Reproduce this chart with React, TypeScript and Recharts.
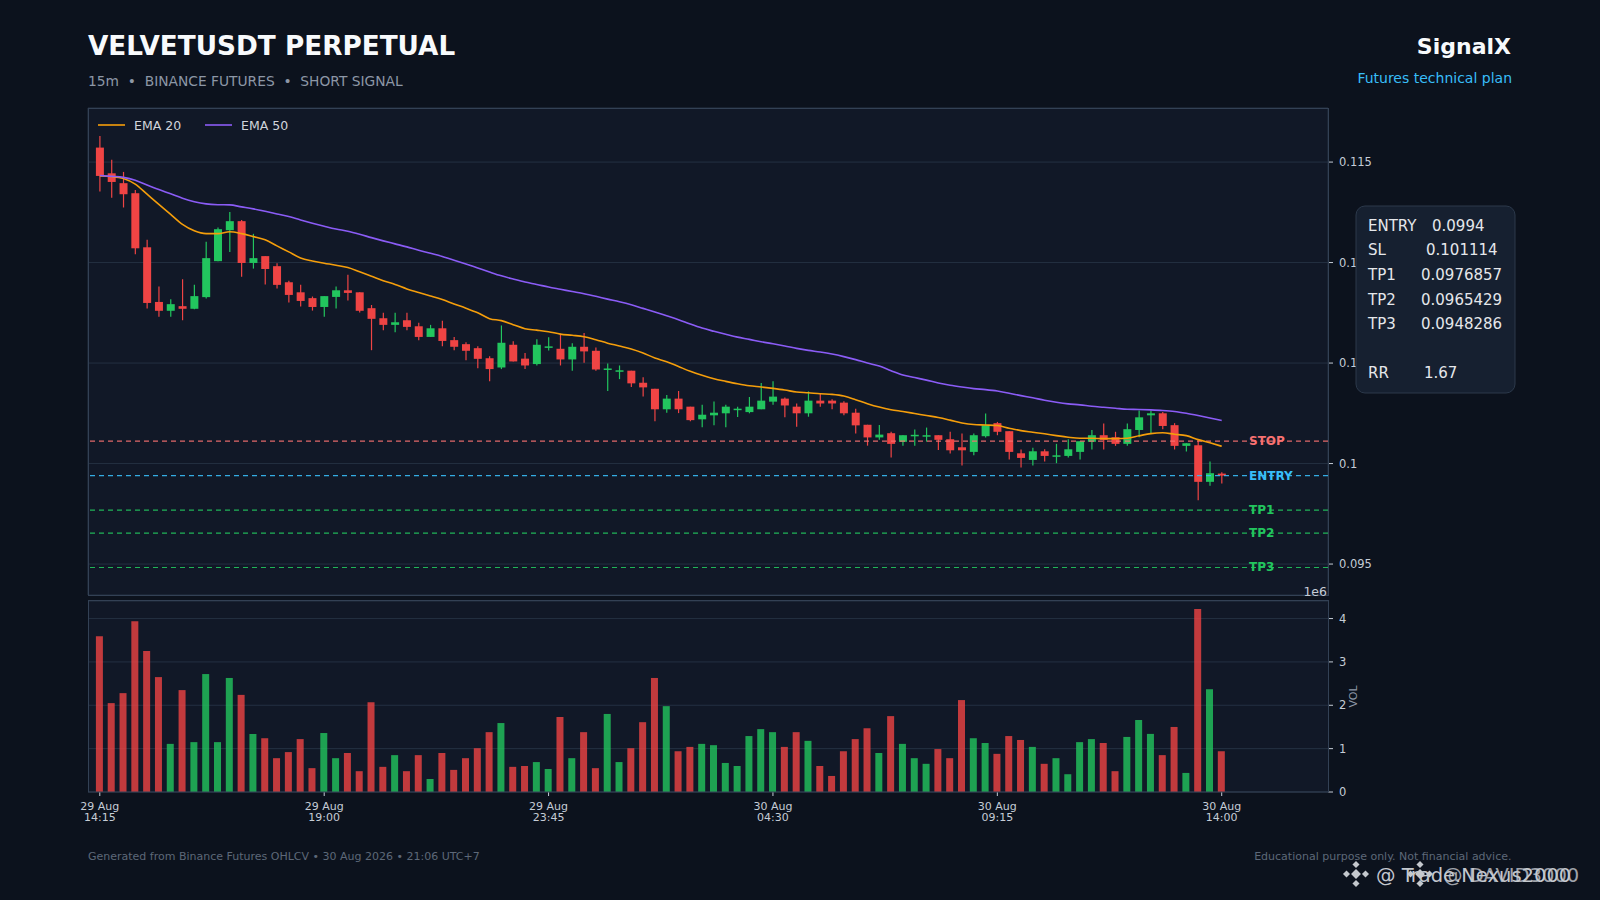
import React from "react";
import {
  ComposedChart,
  BarChart,
  Bar,
  Line,
  XAxis,
  YAxis,
  CartesianGrid,
  ReferenceLine,
  Cell,
  Label,
} from "recharts";

// 15m candles, 29 Aug 14:15 -> 30 Aug 14:00 (96 bars)
const opens = [
  0.11572, 0.11444, 0.11395, 0.11345, 0.11076, 0.10804, 0.1076, 0.10783, 0.1077, 0.10828,
  0.11007, 0.11161, 0.11206, 0.10998, 0.11032, 0.10982, 0.10902, 0.10852, 0.10823, 0.10779,
  0.10829, 0.10862, 0.10852, 0.10773, 0.10723, 0.1069, 0.10713, 0.10683, 0.1063, 0.10673,
  0.10614, 0.10594, 0.10574, 0.10524, 0.10478, 0.10591, 0.10522, 0.10495, 0.10576, 0.10571,
  0.10518, 0.10581, 0.10561, 0.10468, 0.10457, 0.10462, 0.10402, 0.10372, 0.1027, 0.10323,
  0.10283, 0.1022, 0.1024, 0.1025, 0.10268, 0.10256, 0.1027, 0.10308, 0.10323, 0.10283,
  0.1025, 0.10313, 0.10313, 0.10303, 0.10253, 0.10193, 0.1013, 0.10151, 0.10108, 0.10138,
  0.10138, 0.10141, 0.10121, 0.10081, 0.10058, 0.10136, 0.10201, 0.10161, 0.10051, 0.10018,
  0.10061, 0.10036, 0.10038, 0.10058, 0.10108, 0.10141, 0.10131, 0.10098, 0.10167, 0.1024,
  0.1025, 0.10191, 0.10088, 0.10091, 0.09909, 0.0995,
];
const highs = [
  0.1163, 0.11511, 0.11451, 0.11361, 0.11114, 0.10881, 0.10818, 0.10917, 0.10889, 0.11103,
  0.11174, 0.11252, 0.11212, 0.11143, 0.11032, 0.10997, 0.10909, 0.10889, 0.10831, 0.10833,
  0.10881, 0.10939, 0.10852, 0.10789, 0.1075, 0.1075, 0.1075, 0.107, 0.1069, 0.1071,
  0.1063, 0.10604, 0.10584, 0.10534, 0.10687, 0.10608, 0.1055, 0.10619, 0.10629, 0.10646,
  0.10599, 0.10649, 0.10578, 0.10498, 0.10488, 0.10462, 0.1043, 0.10372, 0.10341, 0.10361,
  0.10283, 0.10293, 0.10309, 0.10293, 0.10283, 0.10331, 0.10401, 0.10409, 0.10329, 0.10299,
  0.10359, 0.10346, 0.1032, 0.1031, 0.10273, 0.10193, 0.10192, 0.10158, 0.10141, 0.10169,
  0.10179, 0.10141, 0.10158, 0.10149, 0.10149, 0.10249, 0.10207, 0.10161, 0.1007, 0.10078,
  0.10071, 0.10098, 0.10121, 0.10111, 0.10167, 0.10199, 0.10158, 0.10199, 0.10264, 0.10264,
  0.10257, 0.10201, 0.10101, 0.10116, 0.1001, 0.09957,
];
const lows = [
  0.11353, 0.11323, 0.11274, 0.11041, 0.10771, 0.10731, 0.10731, 0.10713, 0.10768, 0.10821,
  0.11007, 0.11053, 0.1093, 0.1097, 0.10891, 0.10871, 0.10801, 0.10781, 0.10761, 0.10731,
  0.10771, 0.10811, 0.10751, 0.10564, 0.10663, 0.10653, 0.10663, 0.10614, 0.1063, 0.10584,
  0.10564, 0.10514, 0.10474, 0.10409, 0.1047, 0.10508, 0.1047, 0.10488, 0.10563, 0.10488,
  0.10462, 0.10502, 0.10462, 0.10361, 0.1042, 0.10381, 0.10333, 0.1021, 0.10253, 0.10251,
  0.1021, 0.1018, 0.1019, 0.1018, 0.10231, 0.1025, 0.1027, 0.10293, 0.1023, 0.10183,
  0.10233, 0.10283, 0.1027, 0.1024, 0.1015, 0.10089, 0.10119, 0.1003, 0.10088, 0.10088,
  0.10109, 0.10068, 0.1005, 0.0999, 0.10041, 0.10129, 0.10141, 0.1002, 0.0998, 0.0999,
  0.1001, 0.10002, 0.1003, 0.1002, 0.1007, 0.1007, 0.10088, 0.10088, 0.10131, 0.10149,
  0.10171, 0.1007, 0.1006, 0.09818, 0.09889, 0.09901,
];
const closes = [
  0.11431, 0.11401, 0.1134, 0.11071, 0.10799, 0.1076, 0.10793, 0.1077, 0.10833, 0.11022,
  0.11166, 0.11206, 0.10998, 0.11022, 0.10968, 0.10889, 0.10839, 0.10809, 0.10779, 0.10833,
  0.10862, 0.10849, 0.1076, 0.1072, 0.1069, 0.10703, 0.1068, 0.1063, 0.10673, 0.1061,
  0.10581, 0.10561, 0.10521, 0.1047, 0.10601, 0.10508, 0.10488, 0.10591, 0.10583, 0.10518,
  0.10581, 0.10558, 0.10468, 0.10473, 0.10464, 0.10399, 0.10379, 0.1027, 0.10323, 0.1027,
  0.10216, 0.10243, 0.10253, 0.10283, 0.10273, 0.10283, 0.10313, 0.10333, 0.10289, 0.1025,
  0.10313, 0.10299, 0.10299, 0.1025, 0.1019, 0.1013, 0.10144, 0.10098, 0.10141, 0.10143,
  0.10141, 0.10118, 0.10066, 0.10066, 0.10141, 0.10191, 0.10158, 0.10058, 0.10028, 0.10061,
  0.10038, 0.10041, 0.10071, 0.10111, 0.10141, 0.10118, 0.10098, 0.10171, 0.1023, 0.1025,
  0.10187, 0.10088, 0.10101, 0.09909, 0.09952, 0.0994,
];
const volumes = [
  3590000, 2050000, 2280000, 3940000, 3250000, 2650000, 1110000, 2350000, 1150000, 2720000,
  1150000, 2630000, 2240000, 1340000, 1240000, 780000, 920000, 1220000, 550000, 1360000,
  780000, 900000, 480000, 2070000, 580000, 850000, 480000, 850000, 300000, 900000,
  510000, 780000, 1010000, 1380000, 1590000, 580000, 600000, 690000, 530000, 1730000,
  780000, 1380000, 550000, 1800000, 690000, 1010000, 1610000, 2630000, 1980000, 940000,
  1040000, 1110000, 1080000, 670000, 600000, 1290000, 1450000, 1380000, 1040000, 1380000,
  1180000, 600000, 370000, 940000, 1220000, 1470000, 900000, 1750000, 1110000, 780000,
  650000, 990000, 780000, 2120000, 1240000, 1130000, 880000, 1290000, 1200000, 1040000,
  650000, 780000, 410000, 1150000, 1220000, 1130000, 480000, 1270000, 1660000, 1340000,
  850000, 1500000, 440000, 4220000, 2370000, 940000,
];
const ema20 = [
  0.11431, 0.11428, 0.11418, 0.1139, 0.1134, 0.1129, 0.1124, 0.1119, 0.11158, 0.11144,
  0.11144, 0.11153, 0.11144, 0.11129, 0.11113, 0.11083, 0.11053, 0.11023, 0.11008, 0.10997,
  0.10987, 0.10975, 0.10954, 0.10932, 0.1091, 0.10891, 0.10869, 0.10851, 0.10834, 0.10816,
  0.10794, 0.10773, 0.1075, 0.10721, 0.10711, 0.10691, 0.10671, 0.10664, 0.10656, 0.10644,
  0.10638, 0.10631, 0.10616, 0.10599, 0.10585, 0.1057, 0.1055, 0.10525, 0.10507, 0.10483,
  0.10459, 0.10439, 0.10422, 0.10409, 0.10397, 0.10387, 0.10381, 0.10374, 0.10366, 0.10356,
  0.10352, 0.10347, 0.10344, 0.10336, 0.10318, 0.10298, 0.10281, 0.10268, 0.10259, 0.10249,
  0.10239, 0.10229, 0.10216, 0.10202, 0.10194, 0.10192, 0.10189, 0.10176, 0.10164, 0.10156,
  0.10148, 0.10139, 0.10131, 0.10126, 0.10126, 0.10124, 0.10124, 0.10126, 0.10138, 0.10149,
  0.10153, 0.10146, 0.10139, 0.10119, 0.10103, 0.10086,
];
const ema50 = [
  0.11433, 0.11429, 0.11424, 0.1141, 0.11386, 0.11363, 0.11342, 0.1132, 0.11303, 0.11292,
  0.11288, 0.11287, 0.11277, 0.11267, 0.11255, 0.11242, 0.11229, 0.11212, 0.11196, 0.11181,
  0.11167, 0.11156, 0.11141, 0.11124, 0.11108, 0.11093, 0.11078, 0.11061, 0.11046, 0.1103,
  0.11012, 0.10993, 0.10973, 0.10953, 0.10934, 0.10918, 0.10903, 0.10891, 0.10878, 0.10867,
  0.10856, 0.10845, 0.10832, 0.10818, 0.10805, 0.1079, 0.10772, 0.10754, 0.10735, 0.10716,
  0.10694, 0.10674, 0.10658, 0.10643, 0.10629, 0.10618, 0.10606, 0.10596, 0.10585, 0.10573,
  0.10563, 0.10555, 0.10545, 0.10532, 0.10517, 0.105, 0.10485, 0.10462, 0.10441, 0.10428,
  0.10415, 0.10401, 0.1039, 0.10381, 0.10373, 0.10368, 0.10361, 0.1035, 0.10338, 0.10327,
  0.10315, 0.10305, 0.10297, 0.10292, 0.10285, 0.1028, 0.10275, 0.1027, 0.10269, 0.10267,
  0.10264, 0.10259, 0.1025, 0.10239, 0.10227, 0.10214,
];

// x tick positions (candle index) and their labels
const timeTicks = [0, 19, 38, 57, 76, 95];
const timeLabels = [
  ["29 Aug", "14:15"],
  ["29 Aug", "19:00"],
  ["29 Aug", "23:45"],
  ["30 Aug", "04:30"],
  ["30 Aug", "09:15"],
  ["30 Aug", "14:00"],
];
const priceTicks = [0.095, 0.1, 0.105, 0.11, 0.115];
const volumeTicks = [0, 1000000, 2000000, 3000000, 4000000];

// trade plan levels
const levelNames = ["STOP", "ENTRY", "TP1", "TP2", "TP3"];
const levelValues = [0.101114, 0.0994, 0.0976857, 0.0965429, 0.0948286];
const planLabels = ["ENTRY", "SL", "TP1", "TP2", "TP3", "RR"];
const planValues = ["0.0994", "0.101114", "0.0976857", "0.0965429", "0.0948286", "1.67"];

const FONT = "'DejaVu Sans', Verdana, sans-serif";
const BG = "#0c121d";
const PANEL = "#111827";
const GRID = "#243042";
const FRAME = "#334155";
const AXIS_TEXT = "#c5ccd6";
const UP = "#22c55e";
const DOWN = "#ef4444";
const EMA20_COLOR = "#f59e0b";
const EMA50_COLOR = "#8b5cf6";
const LEVEL_COLORS = ["#f87171", "#38bdf8", "#22c55e", "#22c55e", "#22c55e"];

const rows = opens.map((open, i) => ({
  i,
  open,
  high: highs[i],
  low: lows[i],
  close: closes[i],
  range: [lows[i], highs[i]],
  ema20: ema20[i],
  ema50: ema50[i],
  vol: volumes[i],
}));

const X_DOMAIN: [number, number] = [-1, 104];
const MARGIN_L = 88;
const MARGIN_R = 212;
const AXIS_W = 60;

const Candle = (props: any) => {
  const { x, y, width, height, payload } = props;
  if (!payload || height == null) return null;
  const { open, close, high, low } = payload;
  const color = close >= open ? UP : DOWN;
  const top = Math.min(y, y + height);
  const h = Math.abs(height);
  const span = high - low || 1e-9;
  const toY = (v: number) => top + ((high - v) / span) * h;
  const cx = x + width / 2;
  const bTop = toY(Math.max(open, close));
  const bBot = toY(Math.min(open, close));
  return (
    <g>
      <line x1={cx} x2={cx} y1={top} y2={top + h} stroke={color} strokeWidth={1.2} />
      <rect x={x} y={bTop} width={width} height={Math.max(bBot - bTop, 1.5)} fill={color} />
    </g>
  );
};

const LevelTag = (props: any) => {
  const { viewBox, tag, tint } = props;
  if (!viewBox) return null;
  return (
    <text
      x={viewBox.x + viewBox.width - 79}
      y={viewBox.y + 4}
      fill={tint}
      fontSize={12}
      fontWeight="bold"
      fontFamily={FONT}
    >
      {tag}
    </text>
  );
};

const TimeTick = (props: any) => {
  const { x, y, index } = props;
  const lbl = timeLabels[index] || ["", ""];
  return (
    <text x={x} y={y} textAnchor="middle" fill={AXIS_TEXT} fontSize={11} fontFamily={FONT}>
      <tspan x={x} dy={12}>{lbl[0]}</tspan>
      <tspan x={x} dy={10.7}>{lbl[1]}</tspan>
    </text>
  );
};

const fmtPrice = (v: number) => `${+v.toFixed(4)}`;
const fmtVol = (v: number) => `${v / 1000000}`;

const planValueX = [1432, 1426, 1421, 1421, 1421, 1424];
const planBaseY = [230.7, 255.3, 280.2, 304.7, 329.2, 378.2];

export default function App() {
  return (
    <div
      style={{
        position: "absolute",
        left: 0,
        top: 0,
        width: 1600,
        height: 900,
        background: BG,
        overflow: "hidden",
        fontFamily: FONT,
      }}
    >
      {/* price panel */}
      <div style={{ position: "absolute", left: 0, top: 0 }}>
        <ComposedChart
          width={1600}
          height={620}
          data={rows}
          margin={{ top: 108, right: MARGIN_R, left: MARGIN_L, bottom: 0 }}
        >
          <CartesianGrid stroke={GRID} fill={PANEL} />
          <XAxis
            dataKey="i"
            type="number"
            domain={X_DOMAIN}
            ticks={timeTicks}
            tick={false}
            tickSize={4}
            tickLine={{ stroke: AXIS_TEXT }}
            axisLine={false}
            height={25}
            allowDataOverflow
          />
          <YAxis
            orientation="right"
            width={AXIS_W}
            domain={[0.09346, 0.11769]}
            ticks={priceTicks}
            tickFormatter={fmtPrice}
            tick={{ fill: AXIS_TEXT, fontSize: 11.5, fontFamily: FONT }}
            tickSize={5}
            tickMargin={6}
            tickLine={{ stroke: AXIS_TEXT }}
            axisLine={false}
            allowDataOverflow
          />
          {levelValues.map((v, k) => (
            <ReferenceLine
              key={levelNames[k]}
              y={v}
              stroke={LEVEL_COLORS[k]}
              strokeOpacity={0.9}
              strokeDasharray="5 4"
              strokeWidth={1.2}
              label={<LevelTag tag={levelNames[k]} tint={LEVEL_COLORS[k]} />}
            />
          ))}
          <Bar dataKey="range" barSize={8} shape={<Candle />} isAnimationActive={false} />
          <Line
            dataKey="ema20"
            type="monotone"
            stroke={EMA20_COLOR}
            strokeWidth={1.6}
            dot={false}
            isAnimationActive={false}
          />
          <Line
            dataKey="ema50"
            type="monotone"
            stroke={EMA50_COLOR}
            strokeWidth={1.6}
            dot={false}
            isAnimationActive={false}
          />
        </ComposedChart>
      </div>

      {/* volume panel */}
      <div style={{ position: "absolute", left: 0, top: 600 }}>
        <BarChart
          width={1600}
          height={240}
          data={rows}
          margin={{ top: 1, right: MARGIN_R, left: MARGIN_L, bottom: 0 }}
        >
          <CartesianGrid stroke={GRID} fill={PANEL} vertical={false} />
          <XAxis
            dataKey="i"
            type="number"
            domain={X_DOMAIN}
            ticks={timeTicks}
            tick={<TimeTick />}
            tickSize={4}
            tickMargin={2}
            tickLine={{ stroke: AXIS_TEXT }}
            axisLine={false}
            height={48}
            allowDataOverflow
          />
          <YAxis
            orientation="right"
            width={AXIS_W}
            domain={[0, 4405000]}
            ticks={volumeTicks}
            tickFormatter={fmtVol}
            tick={{ fill: AXIS_TEXT, fontSize: 11.5, fontFamily: FONT }}
            tickSize={5}
            tickMargin={6}
            tickLine={{ stroke: AXIS_TEXT }}
            axisLine={false}
            allowDataOverflow
          >
            <Label
              value="VOL"
              angle={-90}
              position="center"
              dx={-5}
              fill="#8d97a6"
              fontSize={11}
              fontFamily={FONT}
            />
          </YAxis>
          <Bar dataKey="vol" barSize={7} isAnimationActive={false}>
            {rows.map((r) => (
              <Cell
                key={`v-${r.i}`}
                fill={r.close >= r.open ? UP : DOWN}
                fillOpacity={0.8}
              />
            ))}
          </Bar>
        </BarChart>
      </div>

      {/* frames, titles, legend, plan box, footer */}
      <svg
        width={1600}
        height={900}
        style={{ position: "absolute", left: 0, top: 0, pointerEvents: "none" }}
        fontFamily={FONT}
      >
        <rect x={88.5} y={108.5} width={1240} height={487} fill="none" stroke={FRAME} />
        <rect x={88.5} y={600.5} width={1240} height={191.5} fill="none" stroke={FRAME} />

        <text x={88} y={54.7} fill="#f8fafc" fontSize={26.3} fontWeight="bold">
          VELVETUSDT PERPETUAL
        </text>
        <text x={88} y={86.3} fill="#8d97a6" fontSize={13.8} xmlSpace="preserve">
          {"15m  \u2022  BINANCE FUTURES  \u2022  SHORT SIGNAL"}
        </text>
        <text x={1511} y={54} fill="#f8fafc" fontSize={22} fontWeight="bold" textAnchor="end">
          SignalX
        </text>
        <text x={1512} y={83.3} fill="#38bdf8" fontSize={14} textAnchor="end">
          Futures technical plan
        </text>

        {/* legend */}
        <line x1={98} x2={125} y1={125} y2={125} stroke={EMA20_COLOR} strokeWidth={1.6} />
        <text x={134} y={129.5} fill="#d1d5db" fontSize={12.5}>EMA 20</text>
        <line x1={205} x2={232} y1={125} y2={125} stroke={EMA50_COLOR} strokeWidth={1.6} />
        <text x={241} y={129.5} fill="#d1d5db" fontSize={12.5}>EMA 50</text>

        <text x={1327} y={596} fill={AXIS_TEXT} fontSize={12.5} textAnchor="end">1e6</text>

        {/* trade plan box */}
        <rect x={1356} y={206} width={159} height={187} rx={9} fill="#162030" stroke="#2c394b" />
        {planLabels.map((l, k) => (
          <g key={l}>
            <text x={1368} y={planBaseY[k]} fill="#e5e7eb" fontSize={15}>{l}</text>
            <text x={planValueX[k]} y={planBaseY[k]} fill="#e5e7eb" fontSize={15}>
              {planValues[k]}
            </text>
          </g>
        ))}

        {/* footer */}
        <text x={88} y={860} fill="#5d6878" fontSize={11}>
          Generated from Binance Futures OHLCV • 30 Aug 2026 • 21:06 UTC+7
        </text>
        <text x={1511.5} y={860} fill="#5d6878" fontSize={11} textAnchor="end">
          Educational purpose only. Not financial advice.
        </text>

        {/* watermark (two stacked overlays, as in the source screenshot) */}
        <g fill="#d9dce1" opacity={0.9}>
          {[1356, 1420].map((cx) => (
            <g key={cx} transform={`translate(${cx},874)`}>
              <rect x={-3.5} y={-3.5} width={7} height={7} transform="rotate(45)" />
              <rect x={-2.5} y={-12} width={5} height={5} transform="rotate(45 0 -9.5)" />
              <rect x={-2.5} y={7} width={5} height={5} transform="rotate(45 0 9.5)" />
              <rect x={-12} y={-2.5} width={5} height={5} transform="rotate(45 -9.5 0)" />
              <rect x={7} y={-2.5} width={5} height={5} transform="rotate(45 9.5 0)" />
            </g>
          ))}
          <text x={1376} y={882} fontSize={19.5}>@ Trade.Nexus2000</text>
          <text x={1443} y={882} fontSize={19.5} opacity={0.8}>@ DAVID3000</text>
        </g>
      </svg>
    </div>
  );
}
